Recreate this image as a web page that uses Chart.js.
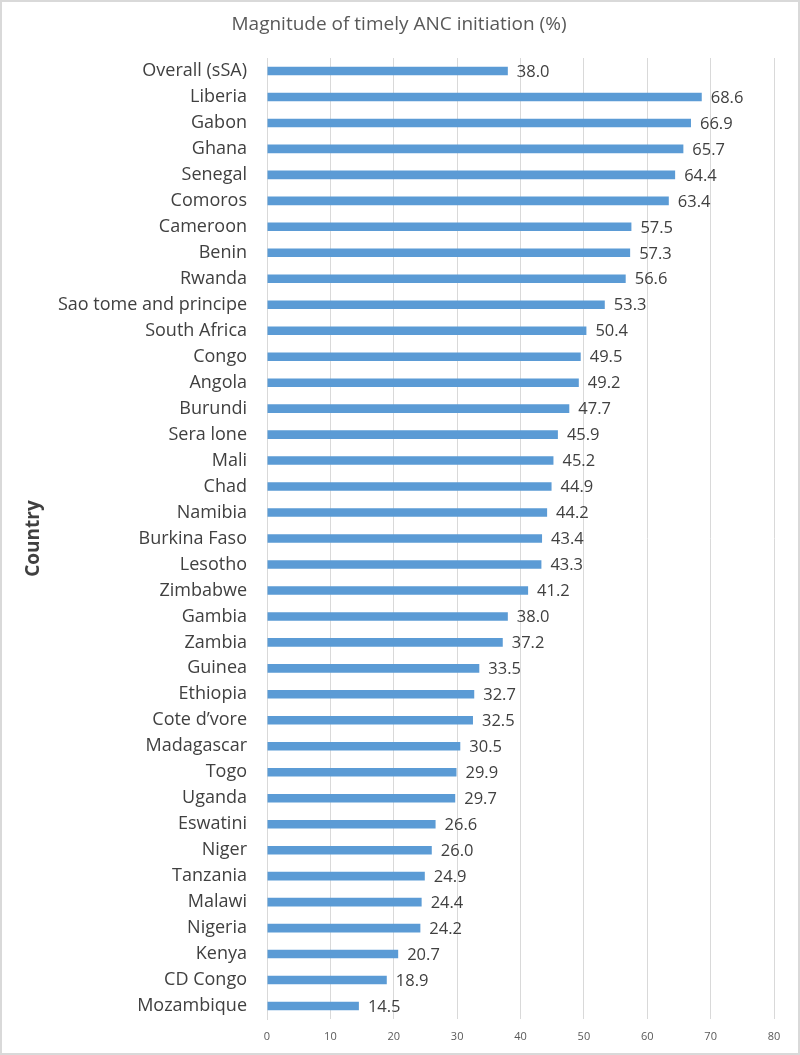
<!DOCTYPE html>
<html>
<head>
<meta charset="utf-8">
<script src="https://cdn.jsdelivr.net/npm/chart.js@4/dist/chart.umd.min.js"></script>
<style>
html,body{margin:0;padding:0;background:#fff;}
#wrap{width:800px;height:1055px;box-sizing:border-box;border:2px solid #d9d9d9;position:relative;}
canvas{display:block;}
</style>
</head>
<body>
<div id="wrap"><canvas id="c" width="796" height="1051"></canvas></div>
<script>
const countries = ["Overall (sSA)","Liberia","Gabon","Ghana","Senegal","Comoros","Cameroon","Benin","Rwanda","Sao tome and principe","South Africa","Congo","Angola","Burundi","Sera lone","Mali","Chad","Namibia","Burkina Faso","Lesotho","Zimbabwe","Gambia","Zambia","Guinea","Ethiopia","Cote d\u2019vore","Madagascar","Togo","Uganda","Eswatini","Niger","Tanzania","Malawi","Nigeria","Kenya","CD Congo","Mozambique"];
const values = [38.0,68.6,66.9,65.7,64.4,63.4,57.5,57.3,56.6,53.3,50.4,49.5,49.2,47.7,45.9,45.2,44.9,44.2,43.4,43.3,41.2,38.0,37.2,33.5,32.7,32.5,30.5,29.9,29.7,26.6,26.0,24.9,24.4,24.2,20.7,18.9,14.5];
const xTicks = [0,10,20,30,40,50,60,70,80];
const titleText = "Magnitude of timely ANC initiation (%)";
const yTitle = "Country";

const FONT = "'Open Sans', sans-serif";

const valueLabels = {
  id: 'valueLabels',
  afterDatasetsDraw(chart) {
    const ctx = chart.ctx;
    const meta = chart.getDatasetMeta(0);
    ctx.save();
    ctx.font = "16.5px " + FONT;
    ctx.fillStyle = "#404040";
    ctx.textAlign = "left";
    ctx.textBaseline = "middle";
    meta.data.forEach((bar, i) => {
      ctx.fillText(values[i].toFixed(1), bar.x + 9, bar.y + 1);
    });
    ctx.restore();
  }
};

const centeredTitle = {
  id: 'centeredTitle',
  afterDraw(chart) {
    const ctx = chart.ctx;
    ctx.save();
    ctx.font = "19px " + FONT;
    ctx.fillStyle = "#595959";
    ctx.textAlign = "center";
    ctx.textBaseline = "middle";
    ctx.fillText(titleText, chart.width / 2 - 1, 23);
    ctx.restore();
  }
};

new Chart(document.getElementById('c'), {
  type: 'bar',
  data: {
    labels: countries,
    datasets: [{
      data: values,
      backgroundColor: '#5B9BD5',
      borderWidth: 0,
      barPercentage: 0.33,
      categoryPercentage: 1.0
    }]
  },
  options: {
    indexAxis: 'y',
    responsive: false,
    animation: false,
    devicePixelRatio: 1,
    layout: { padding: { top: 56, right: 24, left: 0, bottom: 0 } },
    plugins: {
      legend: { display: false },
      tooltip: { enabled: false },
      title: { display: false }
    },
    scales: {
      x: {
        min: 0, max: 80,
        afterBuildTicks: s => { s.ticks = xTicks.map(v => ({ value: v })); },
        grid: { color: '#d9d9d9', drawTicks: false, lineWidth: 1 },
        border: { display: false },
        ticks: { color: '#595959', font: { family: FONT, size: 11 }, padding: 11 },
        afterFit: s => { s.height = 34; }
      },
      y: {
        grid: { display: false, drawTicks: false },
        border: { display: true, color: '#d9d9d9' },
        ticks: { color: '#404040', font: { family: FONT, size: 18 }, padding: 20, autoSkip: false },
        title: {
          display: true,
          text: yTitle,
          color: '#404040',
          font: { family: FONT, size: 19, weight: 'bold' },
          padding: { top: 20, bottom: 0 }
        },
        afterFit: s => { s.width = 265; }
      }
    }
  },
  plugins: [valueLabels, centeredTitle]
});
</script>
</body>
</html>
